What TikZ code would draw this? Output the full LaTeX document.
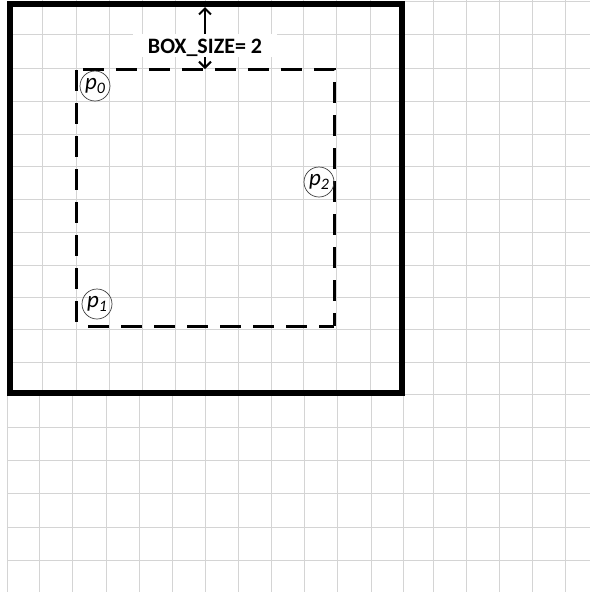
\documentclass[tikz,border=0pt]{standalone}
\usepackage{fontspec}
\setmainfont{Carlito}
\usetikzlibrary{arrows.meta}
\newcommand{\psubs}[1]{p\raisebox{-0.4ex}{\fontsize{16}{16}\selectfont #1}}
\begin{document}
\begin{tikzpicture}[x=1pt,y=-1pt,
  gridline/.style={draw=black!17, line width=0.9pt},
  outerbox/.style={line width=5.5pt},
  dashbox/.style={line width=3pt, dash pattern=on 21pt off 12pt},
  ptcircle/.style={circle, draw=black!75, line width=0.7pt, minimum size=30pt, inner sep=0pt,
    font=\fontsize{23}{23}\selectfont\itshape},
  sizelabel/.style={fill=white, font=\fontsize{22}{22}\selectfont\bfseries,
    minimum width=144pt, minimum height=23pt, inner sep=0pt, text height=15pt, text depth=0pt},
  dimarrow/.style={line width=2pt, {Straight Barb[length=6pt,width=12pt]}-{Straight Barb[length=6pt,width=12pt]}}
]
\useasboundingbox[fill=white] (0,0) rectangle (590,592);
% grid
\foreach \x in {42.5,76,109,142,175,205,238,271,303,336,370,433,466,499,532,565}
  \draw[gridline] (\x,0) -- (\x,394);
\foreach \x in {7,39,72,106,139,172,205,238,271,304,337,371,403,433,466,499,532,565}
  \draw[gridline] (\x,394) -- (\x,592);
\foreach \y in {34,68,101,134,166,199,232,265,297,329,362,394,427,460,493,527,560}
  \draw[gridline] (7,\y) -- (590,\y);
\draw[gridline] (403,1) -- (590,1);
% outer thick box
\draw[outerbox] (10,4) rectangle (402,393);
% dashed box
\draw[dashbox] (83,69) -- (334,69) -- (334,326);
\draw[dashbox] (88,326) -- (334,326);
\draw[dashbox] (76,70) -- (76,326);
% dimension arrow
\coordinate (dimtop) at (205,7);
\coordinate (dimbot) at (205,69);
\draw[dimarrow] (dimtop) -- (dimbot);
\node[sizelabel] (size) at (205,45.5) {BOX\_SIZE= 2};
% point labels
\node[ptcircle] (p0) at (95,86) {\psubs{0}};
\node[ptcircle] (p1) at (97,304) {\psubs{1}};
\node[ptcircle] (p2) at (319,182) {\psubs{2}};
\end{tikzpicture}
\end{document}
